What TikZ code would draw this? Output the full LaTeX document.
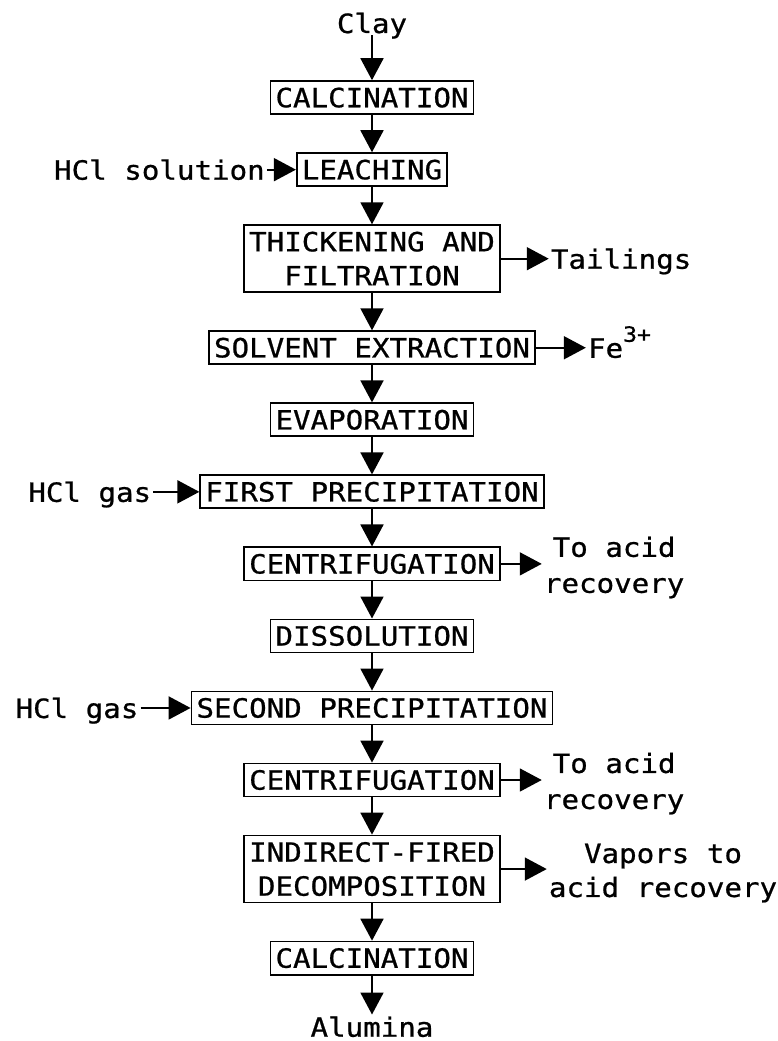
\documentclass[tikz,border=0pt]{standalone}
\usepackage{fontspec}
\newfontfamily\flowfont[FakeStretch=1.1, FakeBold=0.8]{DejaVu Sans Mono}
\usepackage{tikz}
\usetikzlibrary{positioning, arrows.meta}

\begin{document}
\begin{tikzpicture}[node distance=37.2pt, auto,
    process/.style={rectangle, draw, line width=1.8pt, inner xsep=5pt, inner ysep=6.5pt, minimum height=33pt, align=center, font=\flowfont\fontsize{26.5}{34}\selectfont},
    lbl/.style={inner sep=2pt, text height=20pt, text depth=0pt, font=\flowfont\fontsize{26.5}{34}\selectfont},
    lbltwo/.style={inner sep=2pt, align=center, font=\flowfont\fontsize{26.5}{36}\selectfont},
    arr/.style={line width=1.8pt, -{Triangle[length=22pt, width=23pt]}}]
    \useasboundingbox (0,0) rectangle (777pt,-1041pt);

    % main line
    \node (clay) [lbl] at (372pt,-23pt) {Clay};
    \node (calcA) [process, below=45pt of clay] {CALCINATION};
    \node (leach) [process, below=of calcA] {LEACHING};
    \node (thick) [process, below=of leach] {THICKENING AND\\FILTRATION};
    \node (solv) [process, below=of thick] {SOLVENT EXTRACTION};
    \node (evap) [process, below=of solv] {EVAPORATION};
    \node (precA) [process, below=of evap] {FIRST PRECIPITATION};
    \node (centA) [process, below=of precA] {CENTRIFUGATION};
    \node (diss) [process, below=of centA] {DISSOLUTION};
    \node (precB) [process, below=of diss] {SECOND PRECIPITATION};
    \node (centB) [process, below=of precB] {CENTRIFUGATION};
    \node (decomp) [process, below=of centB] {INDIRECT-FIRED\\DECOMPOSITION};
    \node (calcB) [process, below=of decomp] {CALCINATION};
    \node (alumina) [lbl, below=39pt of calcB] {Alumina};

    % side streams
    \node (hclsol) [lbl, left=29pt of leach] {HCl solution};
    \node (tail) [lbl, right=48pt of thick] {Tailings};
    \node (fe) [lbl, right=50pt of solv] {Fe\raisebox{16pt}{\fontsize{21}{21}\selectfont 3+}};
    \node (hclgasA) [lbl, left=46pt of precA] {HCl gas};
    \node (acidA) [lbltwo, right=41pt of centA, yshift=-3.6pt] {To acid\\recovery};
    \node (hclgasB) [lbl, left=50pt of precB] {HCl gas};
    \node (acidB) [lbltwo, right=41pt of centB, yshift=-3.6pt] {To acid\\recovery};
    \node (vapors) [lbltwo, right=46pt of decomp, yshift=-4pt, font=\flowfont\fontsize{26.5}{34}\selectfont] {Vapors to\\acid recovery};

    \draw[arr] (clay) -- (calcA);
    \draw[arr] (calcA) -- (leach);
    \draw[arr] (leach) -- (thick);
    \draw[arr] (thick) -- (solv);
    \draw[arr] (solv) -- (evap);
    \draw[arr] (evap) -- (precA);
    \draw[arr] (precA) -- (centA);
    \draw[arr] (centA) -- (diss);
    \draw[arr] (diss) -- (precB);
    \draw[arr] (precB) -- (centB);
    \draw[arr] (centB) -- (decomp);
    \draw[arr] (decomp) -- (calcB);
    \draw[arr] (calcB) -- (alumina);

    \draw[arr] (hclsol) -- (leach);
    \draw[arr] (thick) -- (tail);
    \draw[arr] (solv) -- (fe);
    \draw[arr] (hclgasA) -- (precA);
    \draw[arr] (centA) -- (centA -| acidA.west);
    \draw[arr] (hclgasB) -- (precB);
    \draw[arr] (centB) -- (centB -| acidB.west);
    \draw[arr] (decomp) -- (decomp -| vapors.west);
\end{tikzpicture}
\end{document}
